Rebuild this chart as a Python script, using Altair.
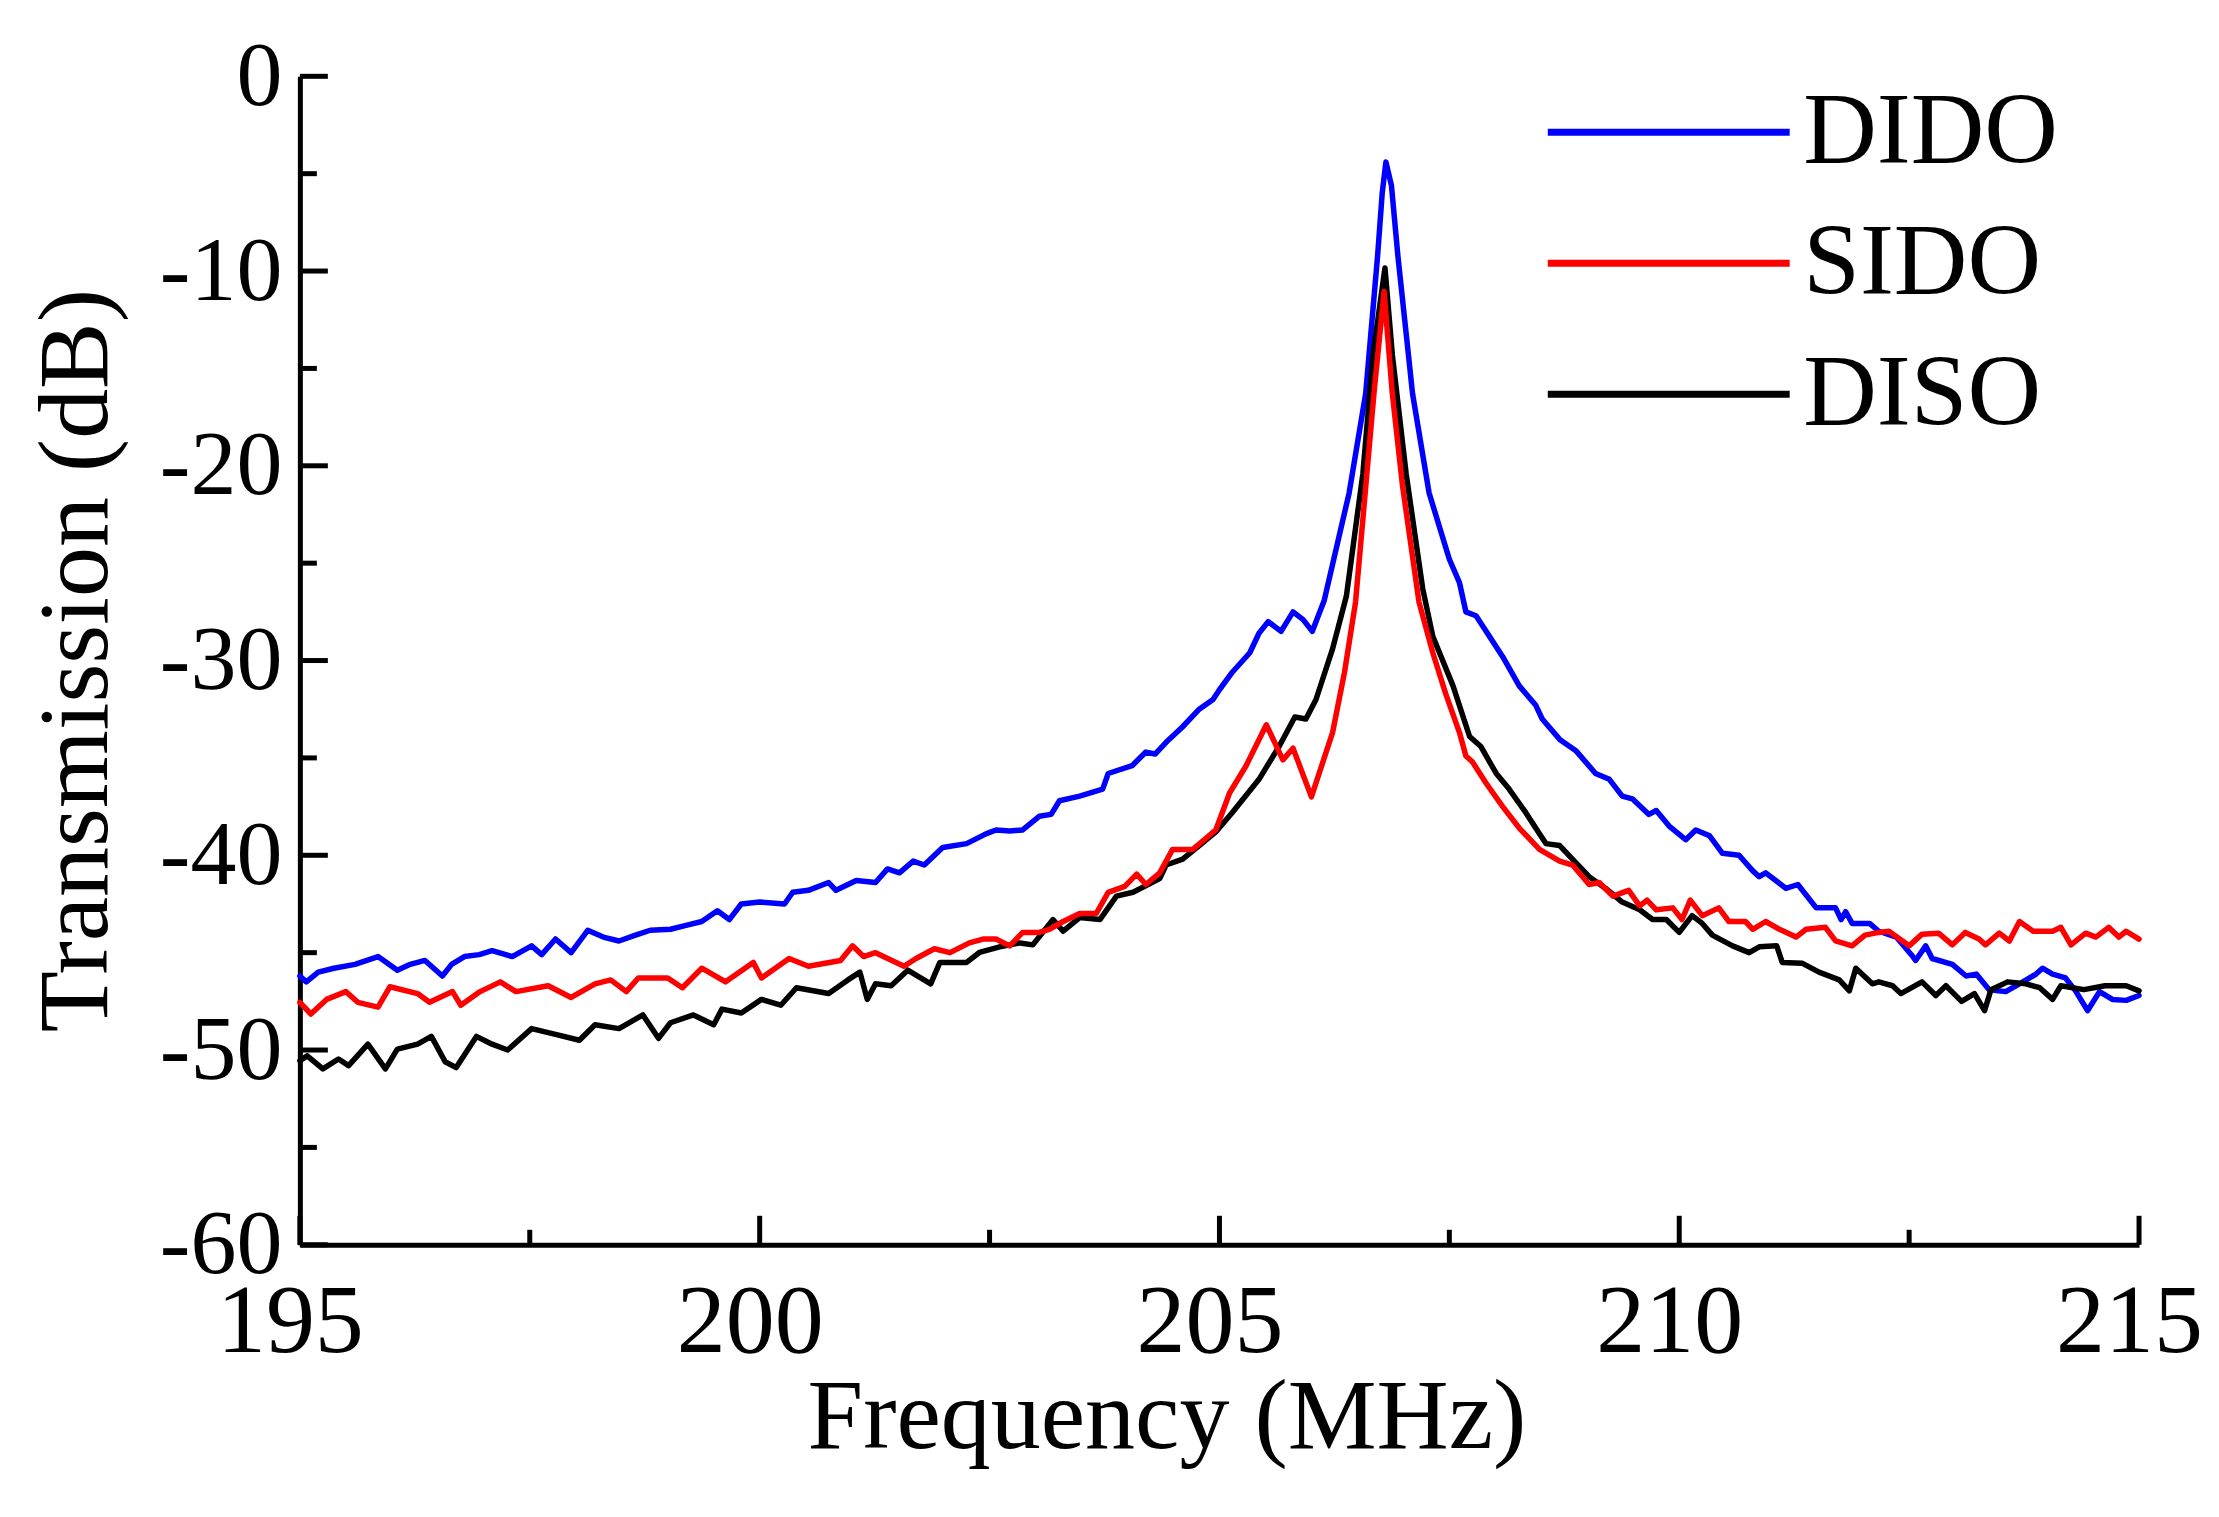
import altair as alt
import pandas as pd

# ---------------- data ----------------
series_names = ["DIDO", "SIDO", "DISO"]
series_colors = ["#0000ff", "#ff0000", "#000000"]

dido_freq = [195.00, 195.07, 195.20, 195.37, 195.60, 195.85, 196.06, 196.20, 196.36, 196.55,
             196.65, 196.79, 196.95, 197.09, 197.31, 197.52, 197.63, 197.78, 197.95, 198.13,
             198.30, 198.47, 198.65, 198.81, 199.03, 199.20, 199.37, 199.54, 199.67, 199.80,
             200.00, 200.27, 200.36, 200.53, 200.75, 200.83, 201.05, 201.26, 201.39, 201.52,
             201.67, 201.79, 201.99, 202.25, 202.46, 202.57, 202.72, 202.86, 203.04, 203.17,
             203.26, 203.48, 203.73, 203.79, 204.05, 204.20, 204.30, 204.42, 204.60, 204.78,
             204.93, 205.00, 205.14, 205.33, 205.43, 205.53, 205.67, 205.80, 205.91, 206.01,
             206.14, 206.41, 206.59, 206.72, 206.77, 206.81, 206.87, 206.94, 207.10, 207.28,
             207.50, 207.61, 207.68, 207.79, 207.90, 208.08, 208.26, 208.44, 208.51, 208.70,
             208.88, 209.09, 209.24, 209.38, 209.49, 209.67, 209.75, 209.89, 210.07, 210.18,
             210.33, 210.47, 210.65, 210.80, 210.87, 210.94, 211.16, 211.29, 211.49, 211.70,
             211.76, 211.81, 211.88, 212.07, 212.17, 212.36, 212.54, 212.57, 212.68, 212.75,
             212.97, 213.12, 213.23, 213.37, 213.55, 213.70, 213.88, 213.95, 214.06, 214.20,
             214.31, 214.44, 214.57, 214.71, 214.86, 215.00]
dido_db = [-46.2, -46.5, -46.0, -45.8, -45.6, -45.2, -45.9, -45.6, -45.4, -46.2,
           -45.6, -45.2, -45.1, -44.9, -45.2, -44.65, -45.1, -44.3, -45.0, -43.85,
           -44.2, -44.4, -44.1, -43.85, -43.8, -43.6, -43.4, -42.85, -43.3, -42.5,
           -42.4, -42.5, -41.9, -41.8, -41.4, -41.8, -41.3, -41.4, -40.7, -40.9,
           -40.3, -40.5, -39.6, -39.4, -38.9, -38.7, -38.75, -38.7, -38.0, -37.9,
           -37.2, -36.96, -36.6, -35.8, -35.4, -34.7, -34.8, -34.2, -33.4, -32.5,
           -32.0, -31.5, -30.6, -29.6, -28.6, -28.0, -28.5, -27.5, -27.9, -28.5,
           -26.9, -21.4, -16.3, -9.2, -6.0, -4.4, -5.6, -9.2, -16.3, -21.4,
           -24.8, -26.0, -27.5, -27.7, -28.5, -29.8, -31.3, -32.3, -33.0, -34.05,
           -34.65, -35.8, -36.1, -36.96, -37.1, -37.9, -37.7, -38.5, -39.2, -38.7,
           -39.0, -39.9, -40.0, -40.8, -41.1, -40.9, -41.7, -41.5, -42.7, -42.7,
           -43.3, -42.9, -43.5, -43.5, -43.9, -44.2, -45.2, -45.4, -44.65, -45.3,
           -45.6, -46.2, -46.1, -46.9, -47.0, -46.6, -46.1, -45.8, -46.1, -46.3,
           -46.96, -47.98, -47.0, -47.4, -47.45, -47.2]

sido_freq = [195.00, 195.12, 195.29, 195.50, 195.63, 195.85, 195.98, 196.28, 196.41, 196.66,
             196.75, 196.96, 197.18, 197.35, 197.70, 197.95, 198.21, 198.38, 198.55, 198.68,
             199.00, 199.16, 199.37, 199.63, 199.93, 200.02, 200.32, 200.53, 200.88, 201.01,
             201.13, 201.26, 201.57, 201.70, 201.90, 202.07, 202.28, 202.43, 202.57, 202.72,
             202.86, 203.04, 203.15, 203.30, 203.48, 203.66, 203.79, 203.97, 204.10, 204.20,
             204.35, 204.49, 204.71, 204.86, 204.96, 205.11, 205.29, 205.51, 205.69, 205.80,
             206.00, 206.23, 206.36, 206.48, 206.68, 206.79, 206.88, 206.99, 207.17, 207.32,
             207.46, 207.61, 207.68, 207.75, 207.90, 208.08, 208.26, 208.48, 208.70, 208.84,
             209.02, 209.13, 209.28, 209.45, 209.57, 209.65, 209.75, 209.93, 210.03, 210.12,
             210.25, 210.43, 210.54, 210.72, 210.80, 210.94, 211.09, 211.27, 211.38, 211.59,
             211.70, 211.88, 212.02, 212.17, 212.28, 212.50, 212.64, 212.82, 212.97, 213.11,
             213.26, 213.33, 213.48, 213.59, 213.70, 213.85, 214.06, 214.15, 214.26, 214.42,
             214.53, 214.67, 214.78, 214.86, 215.00]
sido_db = [-47.55, -48.15, -47.4, -47.0, -47.55, -47.8, -46.75, -47.1, -47.55, -47.0,
           -47.7, -47.0, -46.5, -47.0, -46.7, -47.3, -46.6, -46.4, -47.0, -46.3,
           -46.3, -46.8, -45.8, -46.5, -45.5, -46.3, -45.3, -45.7, -45.4, -44.65,
           -45.2, -45.0, -45.7, -45.3, -44.8, -45.0, -44.5, -44.3, -44.3, -44.65,
           -43.96, -43.96, -43.8, -43.4, -42.99, -42.99, -41.9, -41.6, -40.97, -41.5,
           -40.9, -39.7, -39.7, -39.1, -38.7, -36.8, -35.4, -33.3, -35.1, -34.5,
           -37.0, -33.7, -30.6, -27.0, -16.3, -11.05, -16.3, -21.0, -27.0, -29.6,
           -31.7, -33.7, -34.9, -35.2, -36.3, -37.5, -38.6, -39.7, -40.3, -40.5,
           -41.5, -41.4, -42.1, -41.8, -42.6, -42.3, -42.8, -42.7, -43.3, -42.3,
           -43.1, -42.7, -43.4, -43.4, -43.8, -43.4, -43.8, -44.2, -43.8, -43.7,
           -44.4, -44.65, -44.1, -43.96, -43.9, -44.65, -44.05, -44.0, -44.6, -43.96,
           -44.3, -44.6, -44.0, -44.4, -43.4, -43.9, -43.9, -43.7, -44.6, -44.0,
           -44.2, -43.7, -44.2, -43.9, -44.3]

diso_freq = [195.00, 195.08, 195.25, 195.42, 195.53, 195.74, 195.93, 196.06, 196.28, 196.43,
             196.58, 196.70, 196.92, 197.09, 197.26, 197.52, 197.78, 198.04, 198.21, 198.47,
             198.73, 198.90, 199.03, 199.28, 199.50, 199.59, 199.80, 200.02, 200.23, 200.40,
             200.75, 200.96, 201.09, 201.17, 201.26, 201.43, 201.61, 201.86, 201.96, 202.25,
             202.39, 202.61, 202.83, 202.97, 203.19, 203.30, 203.48, 203.70, 203.88, 204.06,
             204.35, 204.42, 204.60, 204.78, 204.96, 205.14, 205.43, 205.65, 205.82, 205.94,
             206.05, 206.23, 206.38, 206.56, 206.67, 206.80, 206.88, 207.03, 207.21, 207.32,
             207.54, 207.72, 207.84, 208.01, 208.15, 208.33, 208.48, 208.55, 208.70, 208.88,
             209.02, 209.20, 209.38, 209.57, 209.71, 209.86, 210.00, 210.14, 210.25, 210.36,
             210.58, 210.76, 210.87, 211.06, 211.12, 211.34, 211.52, 211.74, 211.85, 211.92,
             212.10, 212.17, 212.32, 212.41, 212.64, 212.79, 212.90, 213.07, 213.21, 213.32,
             213.39, 213.57, 213.77, 213.92, 214.06, 214.15, 214.40, 214.63, 214.86, 215.00]
diso_db = [-50.55, -50.3, -50.97, -50.46, -50.8, -49.7, -50.97, -49.95, -49.7, -49.3,
           -50.6, -50.9, -49.3, -49.7, -50.0, -48.9, -49.2, -49.5, -48.7, -48.9,
           -48.2, -49.4, -48.6, -48.2, -48.7, -47.9, -48.1, -47.4, -47.7, -46.8,
           -47.1, -46.4, -46.0, -47.4, -46.6, -46.7, -45.9, -46.6, -45.5, -45.5,
           -44.99, -44.7, -44.5, -44.6, -43.3, -43.9, -43.2, -43.3, -42.1, -41.9,
           -41.2, -40.5, -40.2, -39.5, -38.8, -37.8, -36.1, -34.4, -32.9, -33.0,
           -32.0, -29.4, -26.7, -20.4, -14.3, -9.84, -14.3, -20.4, -26.3, -28.75,
           -31.3, -33.9, -34.4, -35.8, -36.6, -37.8, -38.9, -39.4, -39.5, -40.4,
           -41.1, -41.7, -42.4, -42.8, -43.3, -43.3, -43.96, -43.1, -43.5, -44.1,
           -44.65, -45.0, -44.7, -44.65, -45.5, -45.55, -46.0, -46.4, -46.96, -45.8,
           -46.6, -46.5, -46.7, -47.1, -46.5, -47.2, -46.7, -47.5, -47.1, -47.98,
           -46.9, -46.5, -46.6, -46.8, -47.4, -46.7, -46.9, -46.7, -46.7, -46.96]

x_major_ticks = [195, 200, 205, 210, 215]
x_minor_ticks = [197.5, 202.5, 207.5, 212.5]
y_major_ticks = [-60, -50, -40, -30, -20, -10, 0]
y_minor_ticks = [-55, -45, -35, -25, -15, -5]

# ---------------- build table ----------------
frames = []
for name, fr, db in [("DIDO", dido_freq, dido_db), ("DISO", diso_freq, diso_db), ("SIDO", sido_freq, sido_db)]:
    frames.append(pd.DataFrame({"freq": fr, "db": db, "series": name}))
df = pd.concat(frames, ignore_index=True)

FONT = "Liberation Serif"
XSCALE = alt.Scale(domain=[195, 215], nice=False, zero=False)
YSCALE = alt.Scale(domain=[-60, 0], nice=False, zero=False)
XTITLE = "Frequency (MHz)"
YTITLE = "Transmission (dB)"

lines = alt.Chart(df).mark_line(strokeWidth=5.5, strokeJoin="round", strokeCap="round").encode(
    x=alt.X("freq:Q", scale=XSCALE, title=XTITLE,
            axis=alt.Axis(values=x_major_ticks, ticks=False, grid=False,
                          labelExpr="'' + datum.value",
                          labelFontSize=98, labelPadding=30, labelFlush=False, labelLimit=0,
                          labelOffset=-10,
                          titleFontSize=100, titleX=867, titleY=203,
                          titleAlign="center", titleBaseline="alphabetic")),
    y=alt.Y("db:Q", scale=YSCALE, title=YTITLE,
            axis=alt.Axis(values=y_major_ticks, ticks=False, grid=False,
                          labelFontSize=92, labelPadding=18, labelFlush=False, labelLimit=0,
                          labelExpr="'' + datum.value",
                          titleFontSize=100, titleAngle=270, titleX=-193, titleY=584,
                          titleAlign="center", titleBaseline="alphabetic")),
    color=alt.Color("series:N",
                    scale=alt.Scale(domain=series_names, range=series_colors),
                    legend=alt.Legend(title=None, orient="none", legendX=1245, legendY=5,
                                      symbolType="stroke", symbolSize=58564,
                                      symbolStrokeWidth=7, clipHeight=102,
                                      labelFont=FONT, labelFontSize=102, labelColor="black",
                                      labelLimit=0, labelOffset=10, rowPadding=29, padding=0)),
    detail="series:N",
)

x_major = alt.Chart(pd.DataFrame({"t": x_major_ticks})).mark_tick(
    orient="vertical", size=29, thickness=5, yOffset=-14.5, color="black", opacity=1
).encode(x=alt.X("t:Q", scale=XSCALE, title=XTITLE), y=alt.YDatum(-60, scale=YSCALE))

x_minor = alt.Chart(pd.DataFrame({"t": x_minor_ticks})).mark_tick(
    orient="vertical", size=15, thickness=5, yOffset=-7.5, color="black", opacity=1
).encode(x=alt.X("t:Q", scale=XSCALE, title=XTITLE), y=alt.YDatum(-60, scale=YSCALE))

y_major = alt.Chart(pd.DataFrame({"t": y_major_ticks})).mark_tick(
    orient="horizontal", size=28, thickness=5, xOffset=14, color="black", opacity=1
).encode(y=alt.Y("t:Q", scale=YSCALE, title=YTITLE), x=alt.XDatum(195, scale=XSCALE))

y_minor = alt.Chart(pd.DataFrame({"t": y_minor_ticks})).mark_tick(
    orient="horizontal", size=17, thickness=5, xOffset=8.5, color="black", opacity=1
).encode(y=alt.Y("t:Q", scale=YSCALE, title=YTITLE), x=alt.XDatum(195, scale=XSCALE))

chart = alt.layer(x_major, x_minor, y_major, y_minor, lines).properties(
    width=1840, height=1169,
    autosize=alt.AutoSizeParams(type="none"),
    padding={"left": 292, "top": 68, "right": 72, "bottom": 240},
    background="white",
).configure_view(stroke=None).configure_axis(
    domainColor="black", domainWidth=5, labelColor="black", titleColor="black",
    labelFont=FONT, titleFont=FONT, titleFontWeight="normal",
)

chart.save("out.html", embed_options={"renderer": "svg", "actions": False})
